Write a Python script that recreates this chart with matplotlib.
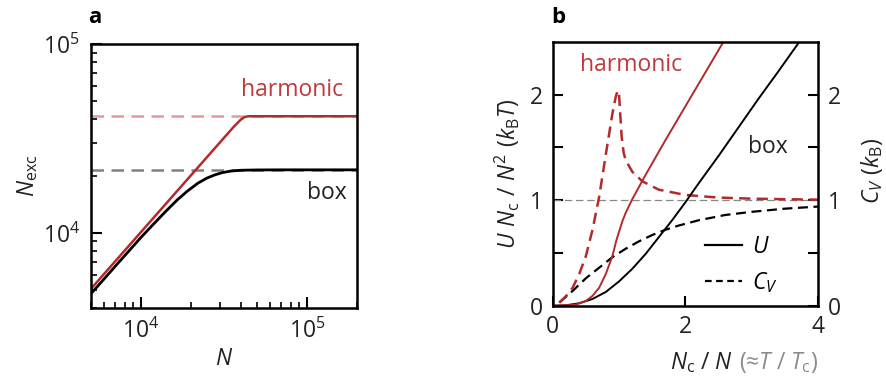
import numpy as np
import matplotlib
matplotlib.use("Agg")
import matplotlib.pyplot as plt
from matplotlib.lines import Line2D
from matplotlib.ticker import LogLocator, NullFormatter, LogFormatterSciNotation

#fonts - open sans is the closest thing to the original
plt.rcParams['font.family'] = ['Open Sans', 'DejaVu Sans']
plt.rcParams['mathtext.fontset'] = 'custom'
plt.rcParams['mathtext.rm'] = 'Open Sans'
plt.rcParams['mathtext.it'] = 'Open Sans:italic'
plt.rcParams['mathtext.bf'] = 'Open Sans:bold'
plt.rcParams['font.size'] = 16.5

red = "#b22a2a"
red_light = "#e49a9a"
txt = "#222222"

#panel a data
N_box = [5000, 6000, 7000, 8500, 10000, 12000, 14000, 16500, 19000, 22000,
         25000, 28000, 31000, 35000, 40000, 50000, 70000, 100000, 200000]
Nexc_box = [4760, 5700, 6650, 8050, 9450, 11200, 12900, 14900, 16600, 18300,
            19500, 20300, 20850, 21250, 21450, 21530, 21560, 21560, 21560]
N_harm = [5000, 36000, 40000, 42500, 45000, 200000]
Nexc_harm = [5050, 36200, 39800, 41200, 41450, 41450]
plateau_harm = 41450
plateau_box = 21560

#panel b data, x = Nc / N
x_U_harm = [0, 0.2, 0.35, 0.5, 0.6, 0.7, 0.8, 0.9, 0.96, 1.0, 1.05, 1.1, 1.2, 1.4, 1.7, 2.0, 2.3, 2.6]
U_harm = [0, 0.003, 0.011, 0.045, 0.093, 0.17, 0.30, 0.47, 0.62, 0.70, 0.80, 0.88, 1.01, 1.24, 1.57, 1.89, 2.21, 2.53]
x_U_box = [0, 0.2, 0.4, 0.6, 0.8, 1.0, 1.2, 1.4, 1.6, 1.8, 2.0, 2.2, 2.5, 2.8, 3.1, 3.4, 3.75]
U_box = [0, 0.004, 0.023, 0.064, 0.13, 0.23, 0.35, 0.49, 0.65, 0.81, 0.98, 1.16, 1.42, 1.69, 1.96, 2.22, 2.53]
x_C_harm = [0.1, 0.2, 0.3, 0.4, 0.5, 0.6, 0.7, 0.8, 0.9, 0.95, 0.98, 1.0, 1.02, 1.04, 1.07,
            1.1, 1.2, 1.35, 1.6, 2.0, 2.5, 3.0, 3.5, 4.0]
C_harm = [0.03, 0.09, 0.17, 0.30, 0.47, 0.72, 1.03, 1.43, 1.82, 1.98, 2.04, 2.0, 1.8, 1.6, 1.45,
          1.38, 1.27, 1.18, 1.10, 1.05, 1.025, 1.015, 1.01, 1.005]
x_C_box = [0.1, 0.3, 0.5, 0.7, 0.9, 1.1, 1.3, 1.5, 1.7, 1.9, 2.2, 2.6, 3.0, 3.5, 4.0]
C_box = [0.03, 0.14, 0.26, 0.36, 0.46, 0.54, 0.61, 0.67, 0.72, 0.76, 0.81, 0.86, 0.89, 0.92, 0.94]

b_yticks = [0, 0.5, 1, 1.5, 2]
b_yticklabels = ["0", "", "1", "", "2"]
b_xticks = [0, 2, 4]

fig = plt.figure(figsize=(8.86, 3.83), dpi=100)
axa = fig.add_axes([0.1027, 0.196, 0.300, 0.689])
axb = fig.add_axes([0.6238, 0.2018, 0.2995, 0.6885])

#panel a
axa.axhline(plateau_harm, color=red_light, lw=1.8, dashes=(5, 3))
axa.axhline(plateau_box, color="#808080", lw=1.8, dashes=(5, 3))
axa.plot(N_box, Nexc_box, color="black", lw=2.0)
axa.plot(N_harm, Nexc_harm, color=red, lw=1.8)
axa.set_xscale("log")
axa.set_yscale("log")
axa.set_xlim(5000, 2e5)
axa.set_ylim(4000, 1e5)
for axis in [axa.xaxis, axa.yaxis]:
    axis.set_major_locator(LogLocator(base=10, numticks=10))
    axis.set_minor_locator(LogLocator(base=10, subs=np.arange(2, 10), numticks=20))
    axis.set_major_formatter(LogFormatterSciNotation())
    axis.set_minor_formatter(NullFormatter())
axa.tick_params(which="major", direction="in", length=8, width=1.5, pad=8, colors="black", labelcolor=txt)
axa.tick_params(which="minor", direction="in", length=4, width=1.2, colors="black")
axa.tick_params(which="both", top=False, right=False)
for s in axa.spines.values():
    s.set_linewidth(1.8)
axa.set_xlabel(r"$N$", labelpad=2, color=txt)
axa.set_ylabel(r"$N_\mathrm{exc}$", labelpad=2, color=txt)
axa.text(0.947, 0.826, "harmonic", color="#c0393b", ha="right", va="center", transform=axa.transAxes)
axa.text(0.962, 0.436, "box", color=txt, ha="right", va="center", transform=axa.transAxes)
fig.text(0.099, 0.955, "a", fontweight="bold", fontsize=16, va="center")

#panel b
axb.axhline(1, color="#888888", lw=0.9, dashes=(6, 3))
axb.plot(x_C_box, C_box, color="black", lw=1.6, dashes=(4.5, 2.5))
axb.plot(x_C_harm, C_harm, color=red, lw=1.8, dashes=(4.5, 2.5))
axb.plot(x_U_box, U_box, color="black", lw=1.4)
axb.plot(x_U_harm, U_harm, color=red, lw=1.4)
axb.set_xlim(0, 4)
axb.set_ylim(0, 2.5)
axb.set_xticks(b_xticks)
axb.set_yticks(b_yticks)
axb.set_yticklabels(b_yticklabels)
axb.tick_params(direction="in", length=7, width=1.5, pad=7, colors="black", labelcolor=txt,
                right=True, labelright=True)
for s in axb.spines.values():
    s.set_linewidth(1.8)
axb.set_ylabel(r"$U\ N_\mathrm{c}\ /\ N^2\ (k_\mathrm{B}T)$", labelpad=6, color=txt)
axb.text(1.205, 0.51, r"$C_V\ (k_\mathrm{B})$", rotation=90, ha="center", va="center",
         transform=axb.transAxes, color=txt)
axb.text(0.41, 2.28, "harmonic", color="#c0393b", ha="left", va="center")
axb.text(2.95, 1.5, "box", color=txt, ha="left", va="center")
fig.text(0.622, 0.955, "b", fontweight="bold", fontsize=16, va="center")

#x label: black part + gray part
gray_part = axb.text(1.0, -0.215, "(≈$T$ / $T_\\mathrm{c}$)", color="#8a8a8a",
                     ha="right", va="center", transform=axb.transAxes)
axb.annotate(r"$N_\mathrm{c}$ / $N$", xy=(0, 0.5), xycoords=gray_part, xytext=(-4, 0),
             textcoords="offset points", ha="right", va="center", color=txt)

#legend
handles = [Line2D([], [], color="black", lw=1.6),
           Line2D([], [], color="black", lw=1.6, dashes=(3, 2))]
axb.legend(handles, [r"$U$", r"$C_V$"], loc="center left", bbox_to_anchor=(0.575, 0.154),
           frameon=False, borderaxespad=0, borderpad=0, handlelength=1.6,
           handletextpad=0.45, labelspacing=0.45)

fig.savefig("out.png", dpi=100)
